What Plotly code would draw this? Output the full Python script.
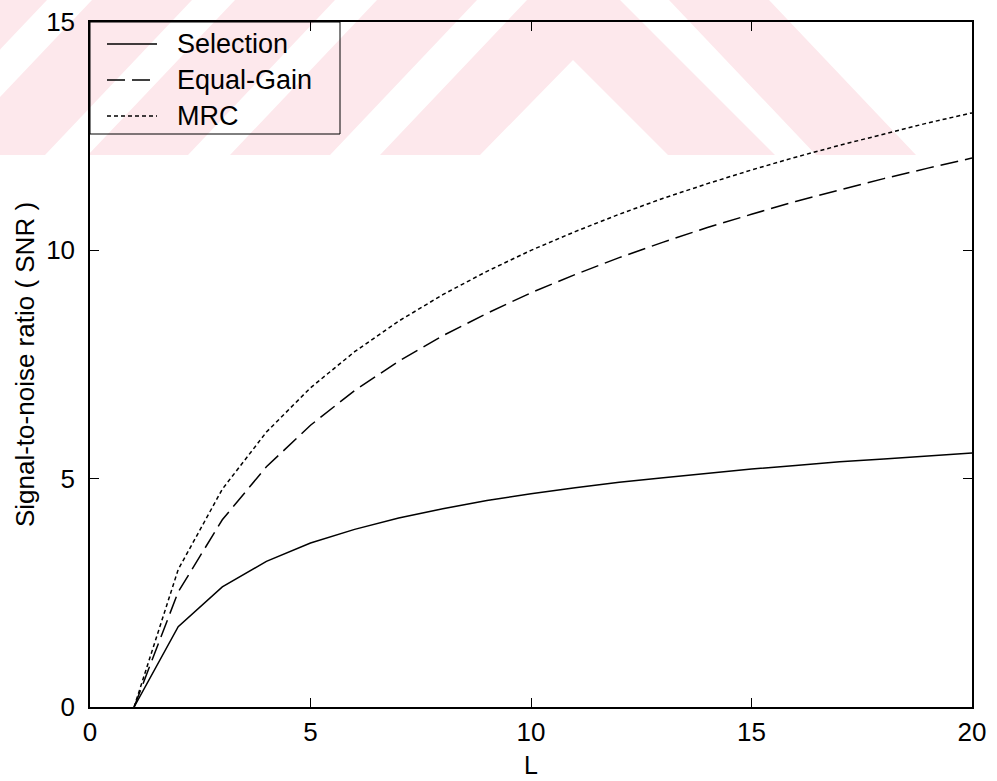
import plotly.graph_objects as go

# ---------------- data ----------------
L = list(range(1, 21))
selection_snr = [0.00, 1.76, 2.63, 3.19, 3.59, 3.89, 4.14, 4.34, 4.52, 4.67,
                 4.80, 4.92, 5.02, 5.12, 5.21, 5.29, 5.37, 5.43, 5.50, 5.56]
equal_gain_snr = [0.00, 2.52, 4.10, 5.26, 6.17, 6.93, 7.57, 8.13, 8.62, 9.07,
                  9.47, 9.84, 10.18, 10.50, 10.79, 11.07, 11.32, 11.57, 11.80, 12.02]
mrc_snr = [0.00, 3.01, 4.77, 6.02, 6.99, 7.78, 8.45, 9.03, 9.54, 10.00,
           10.41, 10.79, 11.14, 11.46, 11.76, 12.04, 12.30, 12.55, 12.79, 13.01]
series_names = ["Selection", "Equal-Gain", "MRC"]
x_ticks = [0, 5, 10, 15, 20]
y_ticks = [0, 5, 10, 15]
x_title = "L"
y_title = "Signal-to-noise ratio ( SNR )"

# ---------------- geometry ----------------
W, H = 997, 781
ML, MR, MT, MB = 90, 25, 22, 74
PW = W - ML - MR
PH = H - MT - MB
FONT = "Liberation Sans, Arial, Helvetica, sans-serif"


def px(x):
    return (x - ML) / PW


def py(y):
    return (H - MB - y) / PH


def path_from(points):
    return "M " + " L ".join(f"{px(a):.5f},{py(b):.5f}" for a, b in points) + " Z"


dashes = ["solid", "18px,7px", "4px,3px"]
series = [selection_snr, equal_gain_snr, mrc_snr]

fig = go.Figure()
for name, vals, dash in zip(series_names, series, dashes):
    fig.add_trace(go.Scatter(
        x=L, y=vals, mode="lines", name=name,
        line=dict(color="black", width=1.5, dash=dash),
        showlegend=False,
    ))

shapes = []

# faint red watermark band at the top (background decoration)
pink = "#fde8ec"
wm_polys = [
    [(230, 155), (330, 155), (477, 0), (377, 0)],
    [(88, 155), (188, 155), (335, 0), (235, 0)],
    [(-55, 155), (45, 155), (192, 0), (92, 0)],
    [(-200, 155), (-100, 155), (47, 0), (-53, 0)],
    [(380, 155), (527, 0), (620, 0), (775, 155), (668, 155), (573, 60), (480, 155)],
    [(669, 0), (769, 0), (916, 155), (816, 155)],
]
for poly in wm_polys:
    shapes.append(dict(type="path", xref="paper", yref="paper", path=path_from(poly),
                       fillcolor=pink, line=dict(width=0), layer="below"))

# legend box
shapes.append(dict(type="rect", xref="paper", yref="paper",
                   x0=px(90), x1=px(340), y0=py(134), y1=py(22),
                   line=dict(color="black", width=1), fillcolor="rgba(0,0,0,0)",
                   layer="above"))
leg_y = [44, 80, 116]
annotations = []
for name, dash, yy in zip(series_names, dashes, leg_y):
    shapes.append(dict(type="line", xref="paper", yref="paper",
                       x0=px(107), x1=px(157), y0=py(yy), y1=py(yy),
                       line=dict(color="black", width=1.3, dash=dash), layer="above"))
    annotations.append(dict(xref="paper", yref="paper", x=px(175), y=py(yy),
                            text=name, showarrow=False, xanchor="left", yanchor="middle",
                            font=dict(family=FONT, size=27, color="black")))

fig.update_layout(
    width=W, height=H,
    margin=dict(l=ML, r=MR, t=MT, b=MB, pad=0, autoexpand=False),
    paper_bgcolor="white", plot_bgcolor="white",
    shapes=shapes, annotations=annotations,
    font=dict(family=FONT, color="black"),
    showlegend=False,
)
fig.update_xaxes(
    range=[0, 20], tickvals=x_ticks, ticktext=[str(v) for v in x_ticks],
    automargin=False,
    showgrid=False, zeroline=False, showline=True, linecolor="black", linewidth=1.5,
    mirror="ticks", ticks="inside", ticklen=9, tickwidth=1.2, tickcolor="black",
    tickfont=dict(family=FONT, size=26, color="black"), ticklabelstandoff=1,
    title=dict(text=x_title, font=dict(family=FONT, size=25, color="black"), standoff=11),
)
fig.update_yaxes(
    range=[0, 15], tickvals=y_ticks, ticktext=[str(v) for v in y_ticks],
    automargin=False,
    showgrid=False, zeroline=False, showline=True, linecolor="black", linewidth=1.5,
    mirror="ticks", ticks="inside", ticklen=9, tickwidth=1.2, tickcolor="black",
    tickfont=dict(family=FONT, size=26, color="black"), ticklabelstandoff=8,
    title=dict(text=y_title, font=dict(family=FONT, size=26, color="black"), standoff=4),
)

fig.write_html("out.html")
